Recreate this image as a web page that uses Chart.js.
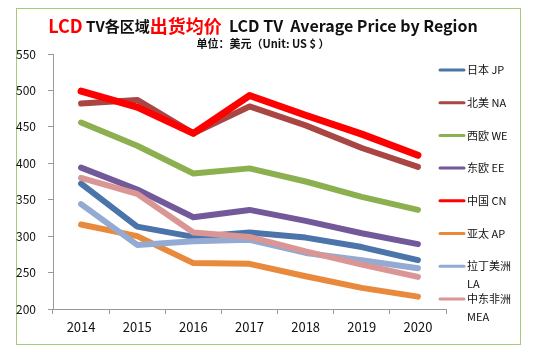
<!DOCTYPE html>
<html>
<head>
<meta charset="utf-8">
<script src="https://cdn.jsdelivr.net/npm/chart.js@4"></script>
<style>
  html, body { margin: 0; padding: 0; background: #fff; }
  #wrap { position: relative; width: 541px; height: 361px; }
</style>
</head>
<body>
<div id="wrap"><canvas id="priceChart" width="541" height="361"></canvas></div>
<script>
// data
const years = ["2014", "2015", "2016", "2017", "2018", "2019", "2020"];
const regionNames = ["日本JP", "北美NA", "西欧WE", "东欧EE", "中国CN", "亚太AP", "拉丁美洲LA", "中东非洲MEA"];
const jp  = [372, 313, 299, 305, 298, 285, 267];
const na  = [482, 487, 441, 478, 452, 421, 395];
const we  = [456, 424, 386, 393, 375, 354, 336];
const ee  = [394, 364, 326, 336, 321, 304, 289];
const cn  = [499, 477, 441, 493, 466, 440, 411];
const ap  = [316, 300, 263, 262, 245, 229, 217];
const la  = [344, 288, 293, 295, 277, 267, 256];
const mea = [380, 358, 305, 299, 279, 261, 244];
const yTicks = [200, 250, 300, 350, 400, 450, 500, 550];

const seriesValues = [jp, na, we, ee, cn, ap, la, mea];
const colors = ["#4a74aa", "#a94643", "#8cb04f", "#72599a", "#ff0000", "#e8893b", "#93aad2", "#d99694"];
const widths = [6, 6, 6, 6, 7, 6, 6, 6];
// legend label lines (wrapped like the original)
const legendLines = [["日本 JP"], ["北美 NA"], ["西欧 WE"], ["东欧 EE"], ["中国 CN"], ["亚太 AP"], ["拉丁美洲", "LA"], ["中东非洲", "MEA"]];

const FONT = "'Noto Sans CJK SC', 'Noto Sans', sans-serif";

const datasets = seriesValues.map(function (vals, i) {
  return {
    label: regionNames[i],
    data: vals,
    borderColor: colors[i],
    backgroundColor: colors[i],
    borderWidth: widths[i],
    pointRadius: 0,
    tension: 0,
    borderCapStyle: "round",
    borderJoinStyle: "round",
    order: seriesValues.length - i
  };
});

const decor = {
  id: "decor",
  beforeDraw(chart) {
    const c = chart.ctx;
    c.save();
    c.fillStyle = "#fff";
    c.fillRect(0, 0, chart.width, chart.height);
    c.strokeStyle = "#a8c97a";
    c.lineWidth = 1;
    c.strokeRect(16.5, 8.5, 504, 336);
    c.restore();
  },
  afterDraw(chart) {
    const c = chart.ctx;
    c.save();
    // title with mixed colours
    const parts = [
      { t: "LCD", color: "#ff0000", size: 18 },
      { t: " TV各区域", color: "#111", size: 15 },
      { t: "出货均价", color: "#ff0000", size: 18 },
      { t: "  LCD TV  Average Price by Region", color: "#111", size: 16 }
    ];
    let total = 0;
    parts.forEach(function (p) {
      c.font = "bold " + p.size + "px " + FONT;
      p.w = c.measureText(p.t).width;
      total += p.w;
    });
    let x = 263 - total / 2;
    c.textBaseline = "middle";
    parts.forEach(function (p) {
      c.font = "bold " + p.size + "px " + FONT;
      c.fillStyle = p.color;
      c.textAlign = "left";
      c.fillText(p.t, x, 26);
      x += p.w;
    });
    c.font = "bold 11px " + FONT;
    c.fillStyle = "#111";
    c.textAlign = "center";
    c.fillText("单位：美元（Unit: US $ ）", 263, 44);

    // legend
    c.font = "11px " + FONT;
    c.textAlign = "left";
    legendLines.forEach(function (lines, i) {
      const y = 70 + i * 32.7;
      c.strokeStyle = colors[i];
      c.lineWidth = 3;
      c.lineCap = "round";
      c.beginPath();
      c.moveTo(440, y);
      c.lineTo(464, y);
      c.stroke();
      c.fillStyle = "#111";
      lines.forEach(function (s, k) {
        c.fillText(s, 467, y + k * 18);
      });
    });
    c.restore();
  }
};

const ctx = document.getElementById("priceChart").getContext("2d");
new Chart(ctx, {
  type: "line",
  data: { labels: years, datasets: datasets },
  options: {
    responsive: false,
    animation: false,
    events: [],
    layout: { padding: { left: 16, top: 54, right: 95, bottom: 0 } },
    plugins: {
      legend: { display: false },
      title: { display: false },
      tooltip: { enabled: false }
    },
    scales: {
      x: {
        offset: true,
        grid: { display: true, drawOnChartArea: false, offset: true, tickLength: 5, color: "#999" },
        border: { color: "#999" },
        ticks: { color: "#111", font: { size: 13, family: FONT }, padding: 5, maxRotation: 0 },
        afterFit(s) { s.height = 52; }
      },
      y: {
        min: 200,
        max: 550,
        afterBuildTicks(s) { s.ticks = yTicks.map(function (v) { return { value: v }; }); },
        grid: { display: true, drawOnChartArea: false, tickLength: 5, color: "#999" },
        border: { color: "#999" },
        ticks: { color: "#111", font: { size: 12, family: FONT }, crossAlign: "far", padding: 3 },
        afterFit(s) { s.width = 37; }
      }
    }
  },
  plugins: [decor]
});
</script>
</body>
</html>
